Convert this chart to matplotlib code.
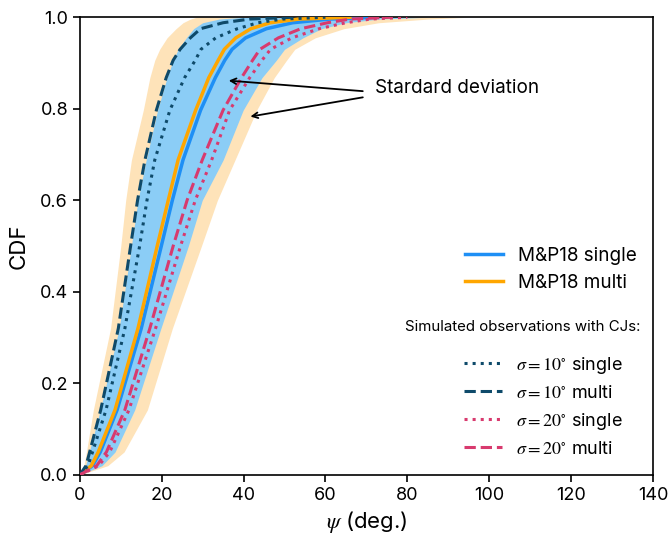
import numpy as np
import matplotlib
matplotlib.use("Agg")
import matplotlib.pyplot as plt

plt.rcParams['font.family'] = ['Inter', 'DejaVu Sans']
plt.rcParams['mathtext.fontset'] = 'stix'

# CDF levels and the psi (deg.) at which each curve reaches them
cdf = [0, 0.02, 0.05, 0.142, 0.32, 0.5, 0.6, 0.688, 0.797, 0.868, 0.906,
       0.93, 0.955, 0.975, 0.988, 0.996, 1.0]

mp_single = [0, 3.1, 5.0, 9.1, 15.0, 19.9, 22.6, 25.2, 29.5, 33.1, 35.4,
             37.2, 40.5, 45.6, 52, 61, 72]
mp_multi = [0, 2.8, 4.5, 8.6, 14.2, 18.9, 21.6, 24.0, 28.3, 31.5, 33.8,
            35.3, 38.1, 41.8, 46.5, 53.5, 66]
s10_single = [0, 2.0, 3.1, 6.4, 11.0, 14.6, 16.4, 18.3, 22.0, 25.6, 28.2,
              29.6, 33.2, 38.5, 43.5, 49.5, 60]
s10_multi = [0, 1.5, 2.4, 5.1, 9.4, 12.4, 14.1, 15.9, 18.7, 21.1, 22.8,
             24.5, 27.0, 29.5, 35.0, 41.5, 52]
s20_single = [0, 4.6, 7.3, 12.0, 18.5, 24.6, 28.2, 32.2, 36.6, 41.5, 44.5,
              46.6, 51.8, 58.5, 65, 71, 80]
s20_multi = [0, 4.1, 6.5, 11.0, 17.1, 22.8, 26.2, 29.9, 35.0, 39.5, 42.2,
             44.0, 48.5, 54.0, 60.5, 66, 76]

# standard deviation bands
multi_lo = [0, 1.0, 1.6, 3.3, 7.5, 10.0, 11.2, 12.6, 15.5, 17.1, 18.3,
            19.5, 21.3, 23.5, 25.2, 27.0, 28.5]
multi_hi = [0, 6.8, 10.8, 16.5, 22.6, 29.7, 33.6, 37.9, 43.2, 47.5, 50.5,
            52.5, 57.5, 64.5, 73, 85, 95]
single_lo = [0, 1.4, 2.3, 5.0, 9.6, 12.6, 14.2, 16.2, 19.0, 21.3, 22.8,
             24.0, 26.0, 27.8, 30, 34, 40]
single_hi = [0, 5.4, 8.6, 13.4, 19.8, 26.5, 29.9, 35.0, 39.9, 44.5, 48.0,
             50.0, 54.5, 59.0, 65, 73, 85]

c_blue = '#1e8ff5'
c_orange = '#ffa600'
c_dark = '#0e4a6a'
c_pink = '#d83a6e'

fig = plt.figure(figsize=(6.71, 5.39), dpi=100)
ax = fig.add_axes([0.119, 0.119, 0.854, 0.849])

ax.fill_betweenx(cdf, multi_lo, multi_hi, color='#fee3b9', lw=0, zorder=1)
ax.fill_betweenx(cdf, single_lo, single_hi, color='#8bcdf6', lw=0, zorder=2)

l1, = ax.plot(mp_single, cdf, color=c_blue, lw=2.5, zorder=4, label='M&P18 single')
l2, = ax.plot(mp_multi, cdf, color=c_orange, lw=2.5, zorder=4, label='M&P18 multi')
l3, = ax.plot(s10_single, cdf, color=c_dark, lw=2.2, ls=':', zorder=5,
              label=r'$\sigma=10^{\circ}$ single')
l4, = ax.plot(s10_multi, cdf, color=c_dark, lw=2.2, ls='--', zorder=5,
              label=r'$\sigma=10^{\circ}$ multi')
l5, = ax.plot(s20_single, cdf, color=c_pink, lw=2.2, ls=':', zorder=5,
              label=r'$\sigma=20^{\circ}$ single')
l6, = ax.plot(s20_multi, cdf, color=c_pink, lw=2.2, ls='--', zorder=5,
              label=r'$\sigma=20^{\circ}$ multi')

ax.text(72.1, 0.845, 'Stardard deviation', fontsize=13.6, va='center', ha='left')
ax.annotate('', xy=(35.7, 0.862), xytext=(69.8, 0.838),
            arrowprops=dict(arrowstyle='->', color='black', lw=1.3), zorder=6)
ax.annotate('', xy=(41.0, 0.782), xytext=(69.8, 0.826),
            arrowprops=dict(arrowstyle='->', color='black', lw=1.3), zorder=6)

ax.set_xlim(0, 140)
ax.set_ylim(0, 1.0)
ax.set_xticks([0, 20, 40, 60, 80, 100, 120, 140])
ax.set_yticks([0, 0.2, 0.4, 0.6, 0.8, 1.0])
ax.tick_params(labelsize=13, length=5, width=1.2)
for s in ax.spines.values():
    s.set_linewidth(1.2)
ax.set_xlabel(r'$\psi$ (deg.)', fontsize=16)
ax.set_ylabel('CDF', fontsize=16, labelpad=8)

leg1 = ax.legend(handles=[l1, l2], loc='upper left', bbox_to_anchor=(0.642, 0.535),
                 frameon=False, fontsize=13.6, handlelength=2.0, handletextpad=0.8,
                 labelspacing=0.45)
ax.add_artist(leg1)
ax.text(79.4, 0.323, 'Simulated observations with CJs:', fontsize=10.8,
        va='center', ha='left')
ax.legend(handles=[l3, l4, l5, l6], loc='lower left', bbox_to_anchor=(0.642, 0.002),
          frameon=False, fontsize=13, handlelength=2.1, handletextpad=0.8,
          labelspacing=0.5)

fig.savefig('out.png', dpi=100)
